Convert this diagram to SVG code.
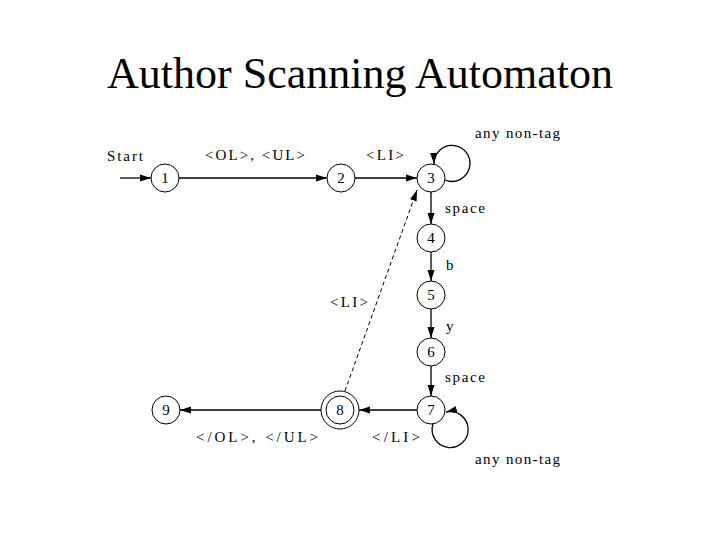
<svg xmlns="http://www.w3.org/2000/svg" width="720" height="540" viewBox="0 0 720 540">
<style>
.n{fill:#fff;stroke:#000;stroke-width:1}
.e{fill:none;stroke:#000;stroke-width:1.3}
.d{fill:none;stroke:#000;stroke-width:1;stroke-dasharray:4,3}
.t{font-family:"Liberation Serif",serif;font-size:15px;fill:#000}
.l{font-family:"Liberation Serif",serif;font-size:15px;fill:#000;text-anchor:middle}
.k{font-family:"Liberation Serif",serif;font-size:15px;fill:#000;text-anchor:middle}
</style>
<defs>
<marker id="a" markerWidth="12" markerHeight="8" refX="11" refY="4" orient="auto" markerUnits="userSpaceOnUse">
<path d="M0,0.5 L11,4 L0,7.5 Z" fill="#000"/>
</marker>
</defs>
<rect width="720" height="540" fill="#fff"/>
<text x="360" y="88" font-family="Liberation Serif,serif" font-size="44" text-anchor="middle">Author Scanning Automaton</text>
<g id="connectors">
<line class="e" x1="120" y1="178" x2="151" y2="178" marker-end="url(#a)"/>
<line class="e" x1="178" y1="178" x2="327" y2="178" marker-end="url(#a)"/>
<line class="e" x1="355" y1="178" x2="417" y2="178" marker-end="url(#a)"/>
<path class="e" d="M445,180 A18,18 0 1 0 434,164" marker-end="url(#a)"/>
<line class="e" x1="431" y1="192" x2="431" y2="224" marker-end="url(#a)"/>
<line class="e" x1="431" y1="252" x2="431" y2="281" marker-end="url(#a)"/>
<line class="e" x1="431" y1="309" x2="431" y2="338" marker-end="url(#a)"/>
<line class="e" x1="431" y1="366" x2="431" y2="396" marker-end="url(#a)"/>
<path class="e" d="M433,424 A18,18 0 1 0 446,412" marker-end="url(#a)"/>
<line class="e" x1="417" y1="410" x2="359" y2="410" marker-end="url(#a)"/>
<line class="e" x1="321" y1="410" x2="180" y2="410" marker-end="url(#a)"/>
<line class="d" x1="345" y1="391" x2="417" y2="190" marker-end="url(#a)"/>
</g>
<text class="t" x="107" y="161" textLength="36">Start</text>
<text class="t" x="205" y="160" textLength="100">&lt;OL&gt;, &lt;UL&gt;</text>
<text class="t" x="366" y="160" textLength="38">&lt;LI&gt;</text>
<text class="t" x="475" y="138" textLength="85">any non-tag</text>
<text class="t" x="445" y="213" textLength="40">space</text>
<text class="t" x="446" y="270">b</text>
<text class="t" x="446" y="331">y</text>
<text class="t" x="445" y="382" textLength="40">space</text>
<text class="t" x="330" y="307" textLength="38">&lt;LI&gt;</text>
<text class="t" x="372" y="442" textLength="48">&lt;/LI&gt;</text>
<text class="t" x="196" y="442" textLength="122">&lt;/OL&gt;, &lt;/UL&gt;</text>
<text class="t" x="475" y="464" textLength="85">any non-tag</text>
<g id="n1"><circle class="n" cx="165" cy="178" r="14"/><text class="k" x="165" y="183">1</text></g>
<g id="n2"><circle class="n" cx="341" cy="178" r="14"/><text class="k" x="341" y="183">2</text></g>
<g id="n3"><circle class="n" cx="431" cy="178" r="14"/><text class="k" x="431" y="183">3</text></g>
<g id="n4"><circle class="n" cx="431" cy="238" r="14"/><text class="k" x="431" y="243">4</text></g>
<g id="n5"><circle class="n" cx="431" cy="295" r="14"/><text class="k" x="431" y="300">5</text></g>
<g id="n6"><circle class="n" cx="431" cy="352" r="14"/><text class="k" x="431" y="357">6</text></g>
<g id="n7"><circle class="n" cx="431" cy="410" r="14"/><text class="k" x="431" y="415">7</text></g>
<g id="n8"><circle class="n" cx="340" cy="410" r="19"/><circle class="n" cx="340" cy="410" r="14"/><text class="k" x="340" y="415">8</text></g>
<g id="n9"><circle class="n" cx="166" cy="410" r="14"/><text class="k" x="166" y="415">9</text></g>
</svg>
